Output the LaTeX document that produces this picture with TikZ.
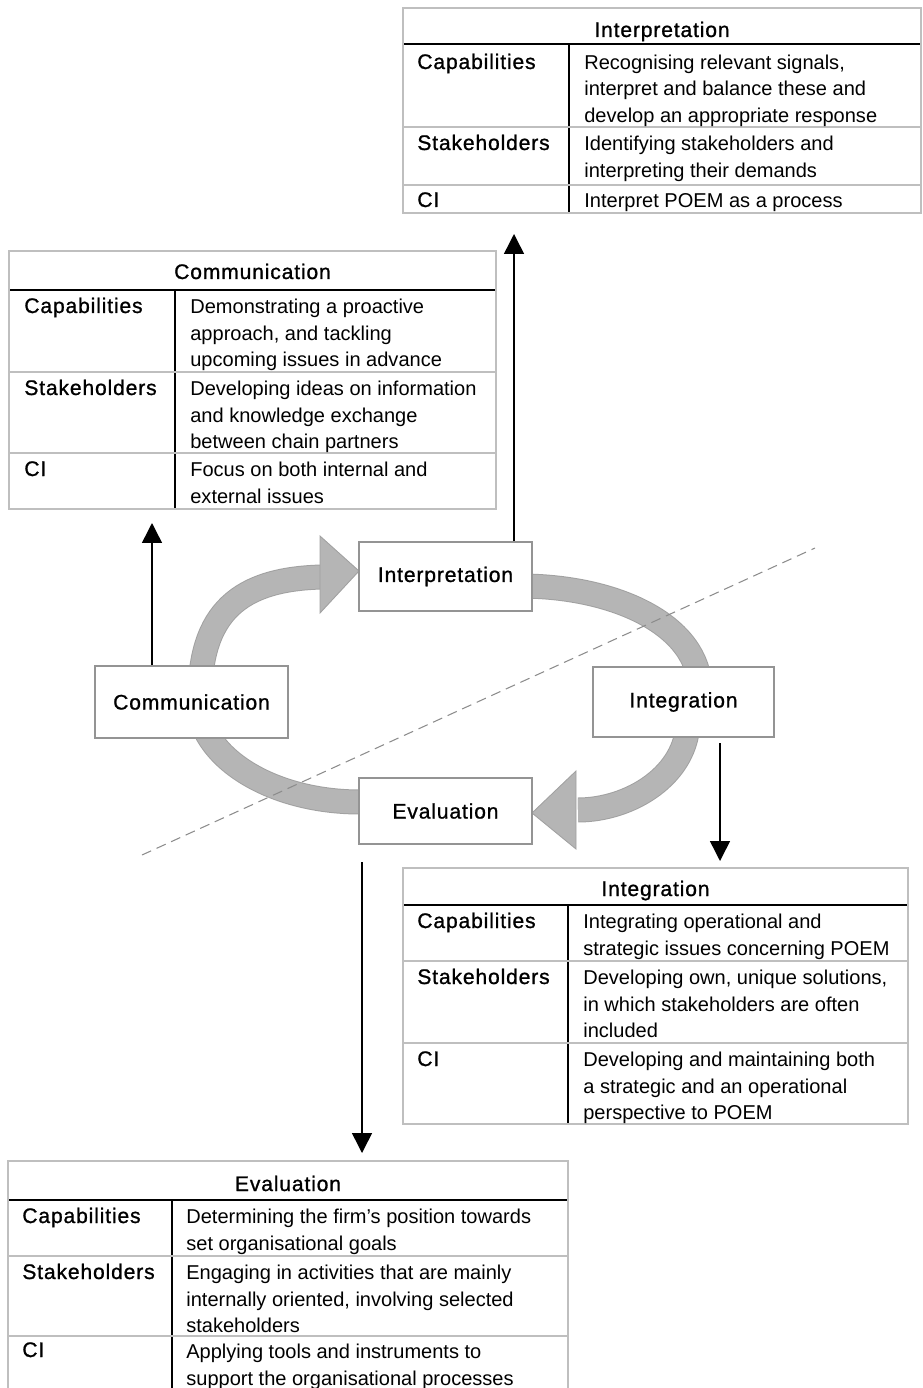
\documentclass[tikz,border=0pt]{standalone}
\usepackage{fontspec}
\setmainfont{Liberation Sans}
\newfontfamily\headfont[LetterSpace=4,FakeBold=1]{Liberation Sans}
\usetikzlibrary{arrows.meta}

\begin{document}
\begin{tikzpicture}[x=0.02cm,y=-0.02cm,
    every node/.style={inner sep=0pt},
    stage/.style={draw=black!42,line width=1.1pt,fill=white,font=\headfont\fontsize{12}{15}\selectfont},
    head/.style={anchor=base,font=\headfont\fontsize{12}{15}\selectfont},
    lab/.style={anchor=base west,font=\headfont\fontsize{12}{15}\selectfont},
    txt/.style={anchor=north west,align=left,font=\fontsize{11.4}{15}\selectfont,execute at begin node=\strut},
    frame/.style={draw=black!25,line width=1.5pt},
    rowline/.style={draw=black!25,line width=1.1pt},
    colline/.style={draw=black,line width=1.1pt},
    band/.style={draw=black!29,line width=0.46cm,preaction={draw=black!37,line width=0.5cm}},
    bandhead/.style={fill=black!29,draw=black!37,line width=0.5pt},
    link/.style={-{Triangle[width=0.4cm,length=0.4cm]},line width=0.85pt},
    split/.style={draw=black!45,line width=0.6pt,dash pattern=on 0.2cm off 0.12cm}]
    \useasboundingbox (0,0) rectangle (922,1388);

    \draw[band] (200,700) .. controls (199,612) and (240,579) .. (322,577);
    \filldraw[bandhead] (320,536) -- (359,571) -- (320,613) -- cycle;
    \draw[band] (520,586) .. controls (615,586) and (700,625) .. (700,690);
    \draw[band] (688,720) .. controls (688,775) and (630,810) .. (578,810);
    \filldraw[bandhead] (576,771) -- (532,813) -- (576,849) -- cycle;
    \draw[band] (380,802) -- (360,802) .. controls (270,802) and (198,756) .. (198,700);

    \node[stage,minimum width=3.46cm,minimum height=1.38cm] (interp) at (445.5,576.5) {Interpretation};
    \node[stage,minimum width=3.86cm,minimum height=1.44cm] (comm) at (191.5,702) {Communication};
    \node[stage,minimum width=3.62cm,minimum height=1.4cm] (integ) at (683.5,702) {Integration};
    \node[stage,minimum width=3.46cm,minimum height=1.32cm] (eval) at (445.5,811) {Evaluation};

    \coordinate (cutA) at (142,855);
    \coordinate (cutB) at (815,548);
    \draw[split] (cutA) -- (cutB);

    \coordinate (interpTip) at (514,234);
    \coordinate (commTip) at (152,523);
    \coordinate (integFrom) at (720,743);
    \coordinate (integTip) at (720,861);
    \coordinate (evalFrom) at (362,862);
    \coordinate (evalTip) at (362,1153);
    \draw[link] (interp.north -| interpTip) -- (interpTip);
    \draw[link] (comm.north -| commTip) -- (commTip);
    \draw[link] (integFrom) -- (integTip);
    \draw[link] (evalFrom) -- (evalTip);

    \draw[colline] (403,44) -- (921,44);
    \draw[colline] (569,44) -- (569,213);
    \draw[rowline] (403,127) -- (921,127);
    \draw[rowline] (403,185) -- (921,185);
    \draw[frame] (403,8) rectangle (921,213);
    \node[head] (interpHead) at (662,37) {Interpretation};
    \node[lab] (interpCapL) at (417,69) {Capabilities};
    \node[txt] (interpCapT) at (584,54.5) {Recognising relevant signals,\\interpret and balance these and\\develop an appropriate response};
    \node[lab] (interpStaL) at (417,150) {Stakeholders};
    \node[txt] (interpStaT) at (584,136) {Identifying stakeholders and\\interpreting their demands};
    \node[lab] (interpCiL) at (417,207) {CI};
    \node[txt] (interpCiT) at (584,188.5) {Interpret POEM as a process};

    \draw[colline] (9,290) -- (496,290);
    \draw[colline] (175,290) -- (175,509);
    \draw[rowline] (9,372) -- (496,372);
    \draw[rowline] (9,453) -- (496,453);
    \draw[frame] (9,251) rectangle (496,509);
    \node[head] (commHead) at (252.5,279) {Communication};
    \node[lab] (commCapL) at (24,313) {Capabilities};
    \node[txt] (commCapT) at (190,299) {Demonstrating a proactive\\approach, and tackling\\upcoming issues in advance};
    \node[lab] (commStaL) at (24,395) {Stakeholders};
    \node[txt] (commStaT) at (190,381) {Developing ideas on information\\and knowledge exchange\\between chain partners};
    \node[lab] (commCiL) at (24,476) {CI};
    \node[txt] (commCiT) at (190,462) {Focus on both internal and\\external issues};

    \draw[colline] (403,905) -- (908,905);
    \draw[colline] (568,905) -- (568,1124);
    \draw[rowline] (403,961) -- (908,961);
    \draw[rowline] (403,1043) -- (908,1043);
    \draw[frame] (403,868) rectangle (908,1124);
    \node[head] (integHead) at (655.5,896) {Integration};
    \node[lab] (integCapL) at (417,928) {Capabilities};
    \node[txt] (integCapT) at (583,914) {Integrating operational and\\strategic issues concerning POEM};
    \node[lab] (integStaL) at (417,984) {Stakeholders};
    \node[txt] (integStaT) at (583,970) {Developing own, unique solutions,\\in which stakeholders are often\\included};
    \node[lab] (integCiL) at (417,1066) {CI};
    \node[txt] (integCiT) at (583,1052) {Developing and maintaining both\\a strategic and an operational\\perspective to POEM};

    \draw[colline] (8,1200) -- (568,1200);
    \draw[colline] (172,1200) -- (172,1420);
    \draw[rowline] (8,1256) -- (568,1256);
    \draw[rowline] (8,1336) -- (568,1336);
    \draw[frame] (8,1161) rectangle (568,1420);
    \node[head] (evalHead) at (288,1191) {Evaluation};
    \node[lab] (evalCapL) at (22,1223) {Capabilities};
    \node[txt] (evalCapT) at (186,1209) {Determining the firm’s position towards\\set organisational goals};
    \node[lab] (evalStaL) at (22,1279) {Stakeholders};
    \node[txt] (evalStaT) at (186,1265) {Engaging in activities that are mainly\\internally oriented, involving selected\\stakeholders};
    \node[lab] (evalCiL) at (22,1357) {CI};
    \node[txt] (evalCiT) at (186,1344) {Applying tools and instruments to\\support the organisational processes};
\end{tikzpicture}
\end{document}
